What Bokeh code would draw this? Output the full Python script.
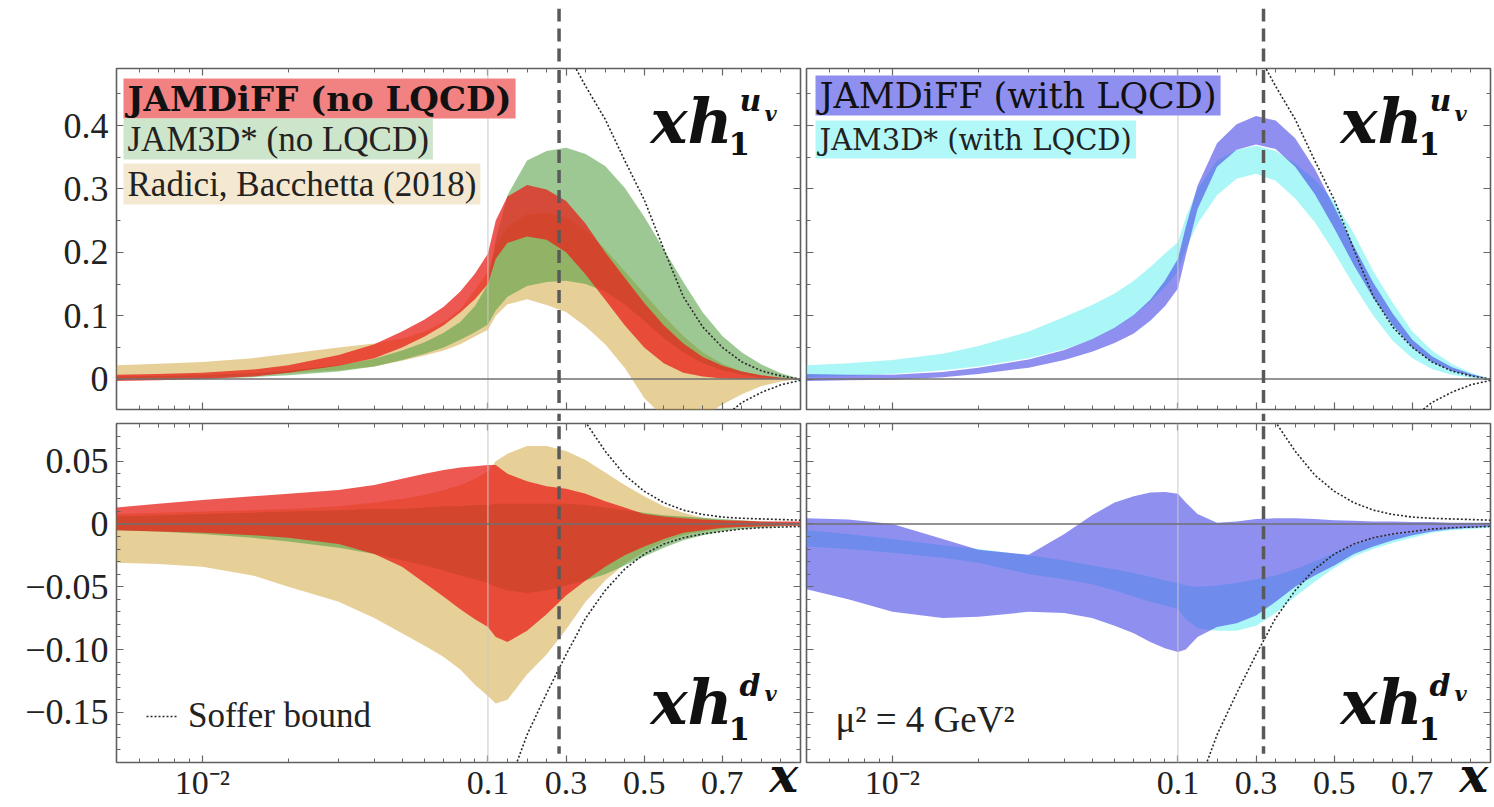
import math
from bokeh.plotting import figure
from bokeh.models import (Range1d, FixedTicker, LinearAxis, Span, Label, Arrow,
                          Legend, LegendItem, ColumnDataSource, CustomJSTransform)
from bokeh.transform import transform
from bokeh.layouts import gridplot
from bokeh.embed import file_html
from bokeh.resources import INLINE

# ------------------------------------------------------------------ data
x_grid = [0.005, 0.007, 0.01, 0.015, 0.02, 0.03, 0.04, 0.05, 0.06, 0.07, 0.08, 0.09, 0.1,
          0.12, 0.15, 0.2, 0.25, 0.3, 0.35, 0.4, 0.45, 0.5, 0.55, 0.6, 0.65, 0.7, 0.75, 0.8, 0.85, 0.9]

# x h1^{u_v}, no LQCD (top left)
radici_u_hi = [0.022, 0.024, 0.027, 0.033, 0.04, 0.05, 0.056, 0.064, 0.075, 0.09, 0.11, 0.14, 0.17, 0.21, 0.24,
               0.26, 0.262, 0.255, 0.235, 0.205, 0.17, 0.135, 0.1, 0.068, 0.042, 0.024, 0.012, 0.005, 0.002, 0.0]
radici_u_lo = [0.002, 0.003, 0.004, 0.006, 0.009, 0.014, 0.02, 0.029, 0.037, 0.045, 0.055, 0.067, 0.078, 0.1, 0.118,
               0.126, 0.117, 0.106, 0.083, 0.055, 0.018, -0.03, -0.06, -0.07, -0.06, -0.04, -0.024, -0.011, -0.004, 0.0]
jam3d_u_hi = [0.004, 0.005, 0.006, 0.009, 0.013, 0.022, 0.032, 0.045, 0.058, 0.073, 0.09, 0.115, 0.15, 0.22, 0.29,
              0.345, 0.36, 0.365, 0.355, 0.336, 0.302, 0.256, 0.205, 0.153, 0.105, 0.068, 0.042, 0.023, 0.009, 0.0]
jam3d_u_lo = [-0.001, -0.001, 0.0, 0.003, 0.006, 0.012, 0.02, 0.03, 0.04, 0.05, 0.062, 0.074, 0.086, 0.108, 0.13,
              0.147, 0.153, 0.155, 0.15, 0.138, 0.118, 0.092, 0.065, 0.042, 0.025, 0.014, 0.007, 0.003, 0.001, 0.0]
jamdiff_u_hi = [0.007, 0.008, 0.01, 0.015, 0.022, 0.038, 0.055, 0.075, 0.094, 0.114, 0.138, 0.166, 0.198, 0.25, 0.288,
                0.306, 0.299, 0.281, 0.245, 0.2, 0.16, 0.12, 0.085, 0.056, 0.035, 0.021, 0.012, 0.006, 0.002, 0.0]
jamdiff_u_lo = [-0.003, -0.002, 0.0, 0.004, 0.01, 0.021, 0.033, 0.05, 0.067, 0.085, 0.105, 0.126, 0.15, 0.19, 0.215,
                0.225, 0.22, 0.2, 0.165, 0.125, 0.085, 0.05, 0.025, 0.01, 0.004, 0.001, 0.0, 0.0, 0.0, 0.0]

# x h1^{d_v}, no LQCD (bottom left)
radici_d_hi = [0.008, 0.009, 0.01, 0.011, 0.012, 0.014, 0.017, 0.02, 0.023, 0.027, 0.031, 0.036, 0.042, 0.05, 0.056,
               0.062, 0.062, 0.058, 0.051, 0.041, 0.031, 0.022, 0.014, 0.009, 0.005, 0.003, 0.002, 0.001, 0.0005, 0.0]
radici_d_lo = [-0.031, -0.032, -0.034, -0.041, -0.05, -0.062, -0.075, -0.087, -0.097, -0.106, -0.116, -0.128, -0.137,
               -0.143, -0.14, -0.12, -0.104, -0.084, -0.062, -0.045, -0.032, -0.022, -0.014, -0.009, -0.006, -0.004,
               -0.002, -0.001, -0.0005, 0.0]
jam3d_d_hi = [0.006, 0.007, 0.008, 0.009, 0.01, 0.011, 0.012, 0.012, 0.013, 0.014, 0.014, 0.015, 0.015, 0.016, 0.016,
              0.016, 0.016, 0.016, 0.015, 0.013, 0.011, 0.009, 0.007, 0.006, 0.005, 0.004, 0.003, 0.002, 0.0015, 0.001]
jam3d_d_lo = [-0.005, -0.006, -0.008, -0.011, -0.014, -0.019, -0.024, -0.029, -0.033, -0.037, -0.041, -0.044, -0.047,
              -0.05, -0.053, -0.055, -0.053, -0.049, -0.045, -0.04, -0.033, -0.026, -0.019, -0.013, -0.009, -0.006,
              -0.004, -0.003, -0.002, -0.001]
jamdiff_d_hi = [0.013, 0.016, 0.019, 0.022, 0.024, 0.027, 0.031, 0.036, 0.04, 0.043, 0.045, 0.046, 0.047, 0.047, 0.04,
                0.034, 0.03, 0.028, 0.024, 0.018, 0.013, 0.008, 0.006, 0.0045, 0.0035, 0.003, 0.0025, 0.002, 0.002, 0.002]
jamdiff_d_lo = [-0.005, -0.006, -0.007, -0.009, -0.011, -0.016, -0.024, -0.034, -0.047, -0.058, -0.068, -0.076, -0.082,
                -0.09, -0.094, -0.085, -0.072, -0.057, -0.045, -0.034, -0.025, -0.018, -0.012, -0.007, -0.005, -0.003,
                -0.0025, -0.002, -0.0015, -0.0015]

# x h1^{u_v}, with LQCD (top right)
jam3d_lq_u_hi = [0.022, 0.025, 0.03, 0.04, 0.052, 0.075, 0.098, 0.117, 0.135, 0.155, 0.177, 0.198, 0.216, 0.255, 0.3,
                 0.345, 0.362, 0.368, 0.36, 0.34, 0.315, 0.28, 0.23, 0.17, 0.12, 0.075, 0.045, 0.024, 0.01, 0.0]
jam3d_lq_u_lo = [0.003, 0.005, 0.008, 0.014, 0.02, 0.033, 0.047, 0.062, 0.08, 0.1, 0.122, 0.145, 0.17, 0.205, 0.245,
                 0.29, 0.316, 0.324, 0.313, 0.285, 0.248, 0.2, 0.148, 0.1, 0.06, 0.033, 0.016, 0.007, 0.002, 0.0]
jamdiff_lq_u_hi = [0.008, 0.007, 0.007, 0.011, 0.018, 0.031, 0.046, 0.063, 0.081, 0.101, 0.125, 0.155, 0.19, 0.24, 0.305,
                   0.372, 0.402, 0.415, 0.408, 0.38, 0.332, 0.272, 0.21, 0.152, 0.103, 0.062, 0.036, 0.019, 0.008, 0.0]
jamdiff_lq_u_lo = [-0.003, -0.002, -0.001, 0.003, 0.008, 0.018, 0.03, 0.043, 0.057, 0.072, 0.092, 0.115, 0.143, 0.195,
                   0.268, 0.335, 0.362, 0.37, 0.363, 0.335, 0.292, 0.238, 0.18, 0.128, 0.085, 0.05, 0.027, 0.013, 0.005, 0.0]

# x h1^{d_v}, with LQCD (bottom right)
jam3d_lq_d_hi = [-0.005, -0.008, -0.012, -0.017, -0.02, -0.025, -0.029, -0.033, -0.036, -0.039, -0.042, -0.045, -0.047,
                 -0.049, -0.05, -0.049, -0.047, -0.044, -0.041, -0.036, -0.03, -0.023, -0.017, -0.012, -0.009, -0.007,
                 -0.005, -0.003, -0.002, -0.002]
jam3d_lq_d_lo = [-0.018, -0.02, -0.023, -0.027, -0.031, -0.04, -0.044, -0.048, -0.053, -0.058, -0.062, -0.065, -0.068,
                 -0.076, -0.083, -0.085, -0.085, -0.081, -0.071, -0.058, -0.046, -0.035, -0.026, -0.02, -0.015, -0.011,
                 -0.007, -0.005, -0.004, -0.003]
jamdiff_lq_d_hi = [0.0045, 0.0035, 0.0, -0.012, -0.0205, -0.0245, -0.008, 0.007, 0.017, 0.022, 0.025, 0.0255, 0.024,
                   0.017, 0.008, 0.001, 0.002, 0.004, 0.0045, 0.0045, 0.004, 0.003, 0.0025, 0.002, 0.002, 0.0015,
                   0.0015, 0.001, 0.001, 0.001]
jamdiff_lq_d_lo = [-0.052, -0.06, -0.07, -0.075, -0.074, -0.07, -0.071, -0.075, -0.081, -0.087, -0.094, -0.099, -0.102,
                   -0.1, -0.09, -0.082, -0.079, -0.073, -0.062, -0.05, -0.041, -0.033, -0.024, -0.018, -0.013, -0.009,
                   -0.006, -0.004, -0.003, -0.002]

# Soffer bounds
soffer_u_hi_x = [0.3, 0.325, 0.35, 0.4, 0.45, 0.5, 0.55, 0.6, 0.65, 0.7, 0.75, 0.8, 0.85, 0.9]
soffer_u_hi = [0.53, 0.49, 0.462, 0.41, 0.345, 0.283, 0.205, 0.13, 0.082, 0.05, 0.027, 0.013, 0.005, 0.0]
soffer_u_lo_x = [0.68, 0.7, 0.75, 0.8, 0.85, 0.9]
soffer_u_lo = [-0.08, -0.062, -0.037, -0.021, -0.009, -0.002]
soffer_d_hi_x = [0.33, 0.35, 0.4, 0.45, 0.5, 0.55, 0.6, 0.65, 0.7, 0.75, 0.8, 0.85, 0.9]
soffer_d_hi = [0.1, 0.081, 0.058, 0.039, 0.026, 0.017, 0.011, 0.0075, 0.0055, 0.0045, 0.004, 0.0035, 0.003]
soffer_d_lo_x = [0.15, 0.2, 0.25, 0.3, 0.35, 0.4, 0.45, 0.5, 0.55, 0.6, 0.65, 0.7, 0.75, 0.8, 0.85, 0.9]
soffer_d_lo = [-0.21, -0.168, -0.135, -0.104, -0.075, -0.053, -0.036, -0.024, -0.016, -0.011, -0.008, -0.006,
               -0.004, -0.003, -0.0025, -0.002]

# axis ticks and labels
x_major = [0.01, 0.1, 0.3, 0.5, 0.7]
x_major_labels = ["10\u207b\u00b2", "0.1", "0.3", "0.5", "0.7"]
x_minor = [0.006, 0.007, 0.008, 0.009, 0.02, 0.03, 0.04, 0.05, 0.06, 0.07, 0.08, 0.09,
           0.15, 0.2, 0.25, 0.35, 0.4, 0.45, 0.55, 0.6, 0.65, 0.75, 0.8, 0.85]
x_title = "x"
u_y_major = [0.0, 0.1, 0.2, 0.3, 0.4]
u_y_labels = ["0", "0.1", "0.2", "0.3", "0.4"]
u_y_minor = [-0.05, 0.05, 0.15, 0.25, 0.35, 0.45]
d_y_major = [-0.15, -0.1, -0.05, 0.0, 0.05]
d_y_labels = ["\u22120.15", "\u22120.10", "\u22120.05", "0", "0.05"]
d_y_minor = [-0.19, -0.18, -0.17, -0.16, -0.14, -0.13, -0.12, -0.11, -0.09, -0.08, -0.07, -0.06,
             -0.04, -0.03, -0.02, -0.01, 0.01, 0.02, 0.03, 0.04, 0.06, 0.07, 0.08]
x_lim = (0.005, 0.9)
u_ylim = (-0.048, 0.49)
d_ylim = (-0.19, 0.08)
marker_x_left = 0.282
marker_x_right = 0.319

# ------------------------------------------------------------------ hybrid log / linear x scale
K_LIN = 390.0 / 285.0   # decades per unit of x above 0.1
HYB = CustomJSTransform(args=dict(k=K_LIN), v_func="""
const out = new Float64Array(xs.length);
for (let i = 0; i < xs.length; i++) {
  const x = xs[i];
  out[i] = x <= 0.1 ? Math.log10(x / 0.1) : (x - 0.1) * k;
}
return out;
""")


def T(v):
    return round(math.log10(v / 0.1) if v <= 0.1 else (v - 0.1) * K_LIN, 9)


XT_MAJOR = [T(v) for v in x_major]
XT_MINOR = [T(v) for v in x_minor]
X_OVR = {T(v): s for v, s in zip(x_major, x_major_labels)}

RED, RED_A = "#E8201A", 0.75
GREEN, GREEN_A = "#4C9A3C", 0.55
TAN, TAN_A = "#D4A843", 0.55
BLUE, BLUE_A = "#4A4AE6", 0.62
CYAN, CYAN_A = "#66F0F0", 0.55
DASH_COLOR = "#595959"

SERIF = "Liberation Serif"
DSERIF = "DejaVu Serif"
ASC_D = 0.928   # DejaVu ascent / em
ASC_L = 0.891   # Liberation ascent / em

HAS_ALIGN = "axis_label_align" in LinearAxis.properties()

# layout (page pixels)
LW, RW = 803, 689          # column widths
LB, LR = 116, 3            # left column borders
RB, RR = 3, 2              # right column borders
TOP_STRIP, TOP_H, GAP_H, BOT_H = 66, 345, 10, 384
FW, FH = 684, 341


def style_axis(ax, show, overrides, standoff, size):
    ax.axis_line_color = None
    ax.major_tick_line_color = "#666666"
    ax.minor_tick_line_color = "#666666"
    ax.major_tick_in, ax.major_tick_out = 7, 0
    ax.minor_tick_in, ax.minor_tick_out = 4, 0
    ax.major_tick_line_width = 1.2
    ax.minor_tick_line_width = 1.0
    if show:
        ax.major_label_overrides = overrides
        ax.major_label_text_font = SERIF
        ax.major_label_text_font_size = size
        ax.major_label_text_color = "#222222"
        ax.major_label_standoff = standoff
    else:
        ax.major_label_text_font_size = "0px"
        ax.major_label_text_alpha = 0
        ax.major_label_standoff = 0


def panel(width, height, bl, br, bt, bb, ylim, ymaj, ymin, ylab, show_x, show_y):
    p = figure(width=width, height=height, x_range=Range1d(T(x_lim[0]), T(x_lim[1])),
               y_range=Range1d(*ylim), x_axis_type=None, y_axis_type=None,
               output_backend="svg", toolbar_location=None,
               min_border_left=bl, min_border_right=br, min_border_top=bt, min_border_bottom=bb,
               background_fill_color="white", border_fill_color="white",
               outline_line_color="#5f5f5f", outline_line_width=1.6)
    xt = FixedTicker(ticks=XT_MAJOR, minor_ticks=XT_MINOR)
    yt = FixedTicker(ticks=ymaj, minor_ticks=ymin)
    yovr = {v: s for v, s in zip(ymaj, ylab)}
    for loc in ("below", "above"):
        ax = LinearAxis(ticker=xt)
        shown = show_x and loc == "below"
        style_axis(ax, shown, X_OVR, 1, "34px")
        if shown and HAS_ALIGN:
            # bold italic axis title, pulled up into the tick-label row at the axis end
            ax.axis_label = x_title + "\u00a0\u00a0"
            ax.axis_label_align = "end"
            ax.axis_label_standoff = -57
            ax.axis_label_text_font = DSERIF
            ax.axis_label_text_font_size = "48px"
            ax.axis_label_text_font_style = "bold italic"
            ax.axis_label_text_color = "#111111"
        p.add_layout(ax, loc)
    for loc in ("left", "right"):
        ax = LinearAxis(ticker=yt)
        style_axis(ax, show_y and loc == "left", yovr, 8, "36px")
        p.add_layout(ax, loc)
    p.add_layout(Span(location=T(0.1), dimension="height", line_color="#c9c9c9", line_width=1))
    p.add_layout(Span(location=0, dimension="width", line_color="#707070", line_width=1.5))
    return p


def strip(width, height, bl, br, bt, xv):
    s = figure(width=width, height=height, x_range=Range1d(T(x_lim[0]), T(x_lim[1])),
               y_range=Range1d(0, 1), x_axis_type=None, y_axis_type=None,
               output_backend="svg", toolbar_location=None, outline_line_color=None,
               min_border_left=bl, min_border_right=br, min_border_top=bt, min_border_bottom=0,
               background_fill_color="white", border_fill_color="white")
    s.add_layout(Span(location=T(xv), dimension="height", line_color=DASH_COLOR,
                      line_width=3.5, line_dash="13 7"))
    return s


def band(p, lo, hi, color, alpha):
    src = ColumnDataSource(dict(x=x_grid, lo=lo, hi=hi))
    p.varea(x=transform("x", HYB), y1="lo", y2="hi", source=src, fill_color=color, fill_alpha=alpha)


def bound(p, xs, ys):
    src = ColumnDataSource(dict(x=xs, y=ys))
    return p.line(x=transform("x", HYB), y="y", source=src, line_color="#2a2a2a",
                  line_width=1.6, line_dash="2 2")


def lab(p, text, x, y, font, size, style="normal", align="left", baseline="top",
        bg=None, padx=0, pady=0, color="#111111"):
    kw = dict(x=x, y=y, x_units="screen", y_units="screen", text=text, text_font=font,
              text_font_size=f"{size}px", text_font_style=style, text_color=color,
              text_align=align, text_baseline=baseline)
    if bg is not None:
        kw.update(background_fill_color=bg, background_fill_alpha=1.0)
        try:
            lbl = Label(padding=dict(x=padx, y=pady), **kw)
        except Exception:
            lbl = Label(padding=max(pady, 1), **kw)
    else:
        lbl = Label(**kw)
    p.add_layout(lbl)


def lab_base(p, text, x, base_from_top, font, asc, size, style="normal", color="#111111"):
    """place a text so that its baseline lies base_from_top pixels below the frame top"""
    top = base_from_top - asc * size
    lab(p, text, x, FH - top, font, size, style, color=color)


def marker(p, xv, y0, y1):
    p.add_layout(Arrow(end=None, x_start=T(xv), y_start=y0, x_end=T(xv), y_end=y1,
                       line_color=DASH_COLOR, line_width=3.5, line_dash="13 7"))


def symbol(p, sup, top):
    # x h_1^{q_v}; baselines measured from the frame top
    if top:
        b_xh, b_1, b_s, b_v = 74, 92, 42, 52
    else:
        b_xh, b_1, b_s, b_v = 302, 324, 274, 279
    lab_base(p, "xh", 534, b_xh, DSERIF, ASC_D, 62, "bold italic")
    lab_base(p, "1", 612, b_1, DSERIF, ASC_D, 31, "bold")
    lab_base(p, sup, 623, b_s, DSERIF, ASC_D, 30, "bold italic")
    lab_base(p, "v", 648, b_v, DSERIF, ASC_D, 21, "bold italic")


def x_label_fallback(p):
    if not HAS_ALIGN:
        lab_base(p, x_title, FW - 40, FH - 4, DSERIF, ASC_D, 40, "bold italic")


# ---------------------------------------------------------------- strips carrying the dashed markers
s_tl = strip(LW, TOP_STRIP, LB, LR, 8, marker_x_left)
s_tr = strip(RW, TOP_STRIP, RB, RR, 8, marker_x_right)
g_l = strip(LW, GAP_H, LB, LR, 0, marker_x_left)
g_r = strip(RW, GAP_H, RB, RR, 0, marker_x_right)

# ---------------------------------------------------------------- top left
tl = panel(LW, TOP_H, LB, LR, 2, 2, u_ylim, u_y_major, u_y_minor, u_y_labels, False, True)
band(tl, radici_u_lo, radici_u_hi, TAN, TAN_A)
band(tl, jam3d_u_lo, jam3d_u_hi, GREEN, GREEN_A)
band(tl, jamdiff_u_lo, jamdiff_u_hi, RED, RED_A)
bound(tl, soffer_u_hi_x, soffer_u_hi)
bound(tl, soffer_u_lo_x, soffer_u_lo)
marker(tl, marker_x_left, 5.0, -5.0)
lab(tl, "JAMDiFF (no LQCD)", 7, 331, DSERIF, 34, "bold", bg="#F28282", padx=4)
lab(tl, "JAM3D* (no LQCD)", 7, 291, SERIF, 35, bg="#CDE5CA", padx=4, pady=1, color="#222")
lab(tl, "Radici, Bacchetta (2018)", 7, 246, SERIF, 35, bg="#F4E8D0", padx=4, pady=1, color="#222")
symbol(tl, "u", True)

# ---------------------------------------------------------------- top right
tr = panel(RW, TOP_H, RB, RR, 2, 2, u_ylim, u_y_major, u_y_minor, u_y_labels, False, False)
band(tr, jam3d_lq_u_lo, jam3d_lq_u_hi, CYAN, CYAN_A)
band(tr, jamdiff_lq_u_lo, jamdiff_lq_u_hi, BLUE, BLUE_A)
bound(tr, soffer_u_hi_x, soffer_u_hi)
bound(tr, soffer_u_lo_x, soffer_u_lo)
marker(tr, marker_x_right, 5.0, -5.0)
lab(tr, "JAMDiFF (with LQCD)", 9, 334, DSERIF, 35, bg="#8F8FF0", padx=4)
lab(tr, "JAM3D* (with LQCD)", 9, 289, DSERIF, 29, bg="#B2F8F8", padx=4, pady=2, color="#222")
symbol(tr, "u", True)

# ---------------------------------------------------------------- bottom left
bl = panel(LW, BOT_H, LB, LR, 2, 41, d_ylim, d_y_major, d_y_minor, d_y_labels, True, True)
band(bl, radici_d_lo, radici_d_hi, TAN, TAN_A)
band(bl, jam3d_d_lo, jam3d_d_hi, GREEN, GREEN_A)
band(bl, jamdiff_d_lo, jamdiff_d_hi, RED, RED_A)
r_soffer = bound(bl, soffer_d_hi_x, soffer_d_hi)
bound(bl, soffer_d_lo_x, soffer_d_lo)
marker(bl, marker_x_left, 5.0, -0.183)
bl.add_layout(Legend(items=[LegendItem(label="Soffer bound", renderers=[r_soffer])],
                     location=(30, 26), border_line_color=None, background_fill_alpha=0,
                     label_text_font=SERIF, label_text_font_size="35px", label_text_color="#222",
                     glyph_width=32, glyph_height=20, label_standoff=10, padding=0, margin=0, spacing=0))
symbol(bl, "d", False)
x_label_fallback(bl)

# ---------------------------------------------------------------- bottom right
br = panel(RW, BOT_H, RB, RR, 2, 41, d_ylim, d_y_major, d_y_minor, d_y_labels, True, False)
band(br, jam3d_lq_d_lo, jam3d_lq_d_hi, CYAN, CYAN_A)
band(br, jamdiff_lq_d_lo, jamdiff_lq_d_hi, BLUE, BLUE_A)
bound(br, soffer_d_hi_x, soffer_d_hi)
bound(br, soffer_d_lo_x, soffer_d_lo)
marker(br, marker_x_right, 5.0, -0.183)
lab_base(br, "\u03bc\u00b2 = 4 GeV\u00b2", 29, 310, SERIF, ASC_L, 37, color="#222")
symbol(br, "d", False)
x_label_fallback(br)

grid = gridplot([[s_tl, s_tr], [tl, tr], [g_l, g_r], [bl, br]], toolbar_location=None)
open("out.html", "w").write(file_html(grid, INLINE))
